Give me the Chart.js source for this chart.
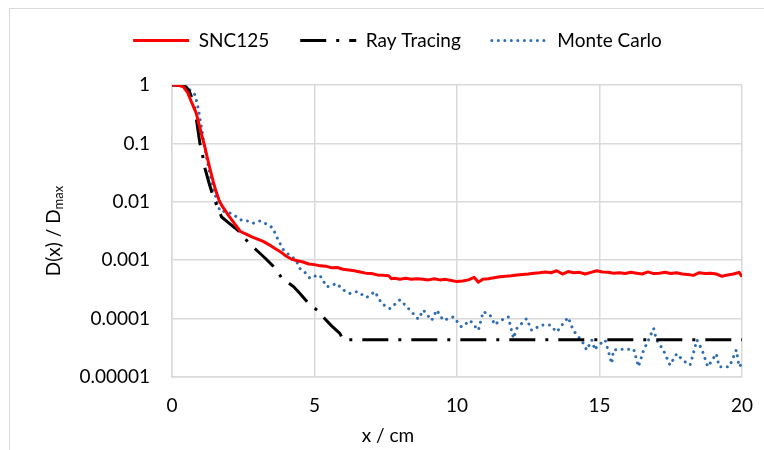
<!DOCTYPE html>
<html>
<head>
<meta charset="utf-8">
<script src="https://cdn.jsdelivr.net/npm/chart.js@4"></script>
<style>
  html, body { margin: 0; padding: 0; background: #fff; }
  #wrap { position: relative; width: 764px; height: 450px; overflow: hidden; }
  #frame { position: absolute; left: 9px; top: 8px; width: 800px; height: 500px; border: 1px solid #d9d9d9; box-sizing: border-box; }
  canvas { position: absolute; left: 0; top: 0; }
</style>
</head>
<body>
<div id="wrap">
  <div id="frame"></div>
  <canvas id="c" width="764" height="450"></canvas>
</div>
<script>
const seriesNames = ['SNC125', 'Ray Tracing', 'Monte Carlo'];

const xSNC = [0,0.2,0.4,0.55,0.65,0.75,0.85,0.95,1.05,1.15,1.25,1.35,1.45,1.55,1.65,1.75,1.9,2.0,2.2,2.4,2.6,2.8,3.0,3.2,3.4,3.6,3.8,4.0,4.2,4.4,4.6,4.8,5.0,5.2,5.4,5.6,5.8,6.0,6.2,6.4,6.6,6.8,7.0,7.2,7.4,7.6,7.7,7.8,8.0,8.2,8.4,8.6,8.8,9.0,9.2,9.4,9.6,9.8,10.0,10.2,10.4,10.6,10.75,10.9,11.1,11.3,11.5,11.7,11.9,12.1,12.3,12.5,12.7,12.9,13.1,13.3,13.5,13.7,13.9,14.1,14.3,14.5,14.7,14.9,15.1,15.3,15.5,15.7,15.9,16.1,16.3,16.5,16.7,16.9,17.1,17.3,17.5,17.7,17.9,18.1,18.3,18.5,18.7,18.9,19.1,19.3,19.5,19.7,19.9,20.0];
const ySNC = [1,0.995,0.93,0.74,0.56,0.43,0.33,0.21,0.135,0.088,0.054,0.034,0.022,0.0148,0.0107,0.0086,0.0067,0.0057,0.0042,0.0031,0.0028,0.0025,0.0023,0.0021,0.00185,0.0016,0.0014,0.00118,0.00104,0.00098,0.00093,0.00086,0.00084,0.00080,0.00079,0.00074,0.00075,0.00070,0.00068,0.00066,0.00063,0.00060,0.00059,0.00056,0.00055,0.00054,0.00048,0.00049,0.00047,0.00049,0.00047,0.00048,0.00047,0.00046,0.00048,0.00046,0.00047,0.00045,0.00043,0.00044,0.00046,0.00051,0.00042,0.00047,0.00048,0.00050,0.00052,0.00053,0.00054,0.00056,0.00057,0.00058,0.00060,0.00061,0.00063,0.00061,0.00066,0.00058,0.00064,0.00061,0.00062,0.00058,0.00062,0.00066,0.00063,0.00062,0.00060,0.00061,0.00059,0.00062,0.00060,0.00058,0.00063,0.00059,0.00060,0.00062,0.00059,0.00061,0.00058,0.00057,0.00055,0.00061,0.00059,0.00060,0.00058,0.00053,0.00056,0.00058,0.00062,0.00052];

const xRT = [0,0.3,0.5,0.6,0.7,0.8,0.87,0.98,1.08,1.16,1.3,1.39,1.5,1.6,1.74,2.0,2.2,2.39,2.68,2.97,3.3,3.56,3.85,4.27,4.49,4.79,5.13,5.37,5.6,5.89,6.0,8,10,12,14,16,18,20];
const yRT = [1,0.99,0.92,0.8,0.6,0.38,0.23,0.1,0.06,0.037,0.021,0.015,0.0105,0.008,0.0055,0.0043,0.0036,0.0030,0.0020,0.00148,0.00105,0.00078,0.0005,0.00035,0.00027,0.000182,0.000135,0.000098,0.000075,0.000056,0.0000436,0.0000436,0.0000436,0.0000436,0.0000436,0.0000436,0.0000436,0.0000436];

const xMC = [0,0.3,0.5,0.65,0.81,0.92,1.04,1.12,1.22,1.33,1.45,1.55,1.68,1.86,2.09,2.27,2.45,2.65,2.85,3.09,3.3,3.53,3.73,3.91,4.05,4.2,4.35,4.49,4.65,4.84,5.08,5.19,5.43,5.6,5.78,6.0,6.25,6.5,6.83,7.12,7.36,7.65,8.0,8.35,8.64,8.82,9.11,9.29,9.52,9.87,10.16,10.46,10.75,10.92,11.16,11.33,11.45,11.8,11.98,12.1,12.44,12.62,12.97,13.26,13.5,13.73,13.9,14.08,14.26,14.43,14.55,14.73,14.84,14.9,15.2,15.43,15.49,15.78,16.2,16.37,16.55,16.72,16.9,17.0,17.24,17.47,17.71,17.94,18.18,18.42,18.6,18.8,19.1,19.2,19.56,19.8,19.9,20.0];
const yMC = [1,1,0.95,0.8,0.68,0.4,0.18,0.1,0.055,0.03,0.017,0.0115,0.0069,0.0068,0.0063,0.0055,0.0048,0.0047,0.0043,0.0047,0.0042,0.0036,0.0022,0.0015,0.0013,0.00117,0.001,0.00072,0.00063,0.00049,0.00055,0.00055,0.00035,0.00037,0.0004,0.00031,0.00027,0.00029,0.00023,0.00029,0.00018,0.000148,0.00021,0.00014,0.000098,0.00014,0.000093,0.00014,0.000093,0.000107,0.000072,0.000093,0.000063,0.000132,0.000115,0.000078,0.000089,0.000107,0.000046,0.000068,0.0001,0.000063,0.000078,0.000078,0.000059,0.000083,0.000105,0.000063,0.000049,0.000038,0.000029,0.000043,0.000029,0.000033,0.000043,0.000017,0.000029,0.00003,0.00003,0.000015,0.000029,0.000043,0.000068,0.000043,0.000029,0.000016,0.000025,0.000019,0.000016,0.000043,0.000029,0.000015,0.000025,0.000015,0.000015,0.000029,0.000015,0.000017];

const yTicks = [0.00001, 0.0001, 0.001, 0.01, 0.1, 1];
const yTickLabels = ['0.00001', '0.0001', '0.001', '0.01', '0.1', '1'];
const xTicks = [0, 5, 10, 15, 20];
const xTitle = 'x / cm';
const yTitleMain = 'D(x) / D';
const yTitleSub = 'max';

const pts = (xs, ys) => xs.map((x, i) => ({x: x, y: ys[i]}));
const FONT = 'Lato, "Open Sans", "Liberation Sans", sans-serif';

const titlePlugin = {
  id: 'titles',
  beforeInit(chart) {
    const lg = chart.legend;
    if (lg) {
      const fit = lg.fit;
      lg.fit = function () { fit.call(this); this.height = 85; };
    }
  },
  afterDraw(chart) {
    const ctx = chart.ctx;
    const a = chart.chartArea;
    ctx.save();
    ctx.fillStyle = '#000';
    ctx.textBaseline = 'middle';
    ctx.font = '19px ' + FONT;
    ctx.textAlign = 'center';
    ctx.fillText(xTitle, 388, 436);
    ctx.translate(54, (a.top + a.bottom) / 2);
    ctx.rotate(-Math.PI / 2);
    ctx.textAlign = 'left';
    ctx.font = '19px ' + FONT;
    const w1 = ctx.measureText(yTitleMain).width;
    ctx.font = '13px ' + FONT;
    const w2 = ctx.measureText(yTitleSub).width;
    const x0 = -(w1 + w2) / 2;
    ctx.font = '19px ' + FONT;
    ctx.fillText(yTitleMain, x0, 0);
    ctx.font = '13px ' + FONT;
    ctx.fillText(yTitleSub, x0 + w1, 5);
    ctx.restore();
  }
};

new Chart(document.getElementById('c'), {
  type: 'line',
  data: {
    datasets: [
      {
        label: seriesNames[0], data: pts(xSNC, ySNC),
        borderColor: '#ff0000', backgroundColor: '#ff0000', borderWidth: 3,
        pointRadius: 0, pointStyle: 'line', tension: 0, borderJoinStyle: 'round'
      },
      {
        label: seriesNames[1], data: pts(xRT, yRT),
        borderColor: '#000000', backgroundColor: '#000000', borderWidth: 3,
        borderDash: [26, 10, 3, 10], pointRadius: 0, pointStyle: 'line', tension: 0
      },
      {
        label: seriesNames[2], data: pts(xMC, yMC),
        borderColor: '#2e6db0', backgroundColor: '#2e6db0', borderWidth: 3,
        borderDash: [0.01, 6.5], borderCapStyle: 'round',
        pointRadius: 0, pointStyle: 'line', tension: 0
      }
    ]
  },
  options: {
    responsive: false,
    animation: false,
    devicePixelRatio: 1,
    layout: { padding: { left: 53, right: 22, top: 0, bottom: 0 } },
    plugins: {
      legend: {
        display: true, position: 'top',
        labels: {
          usePointStyle: true, boxWidth: 50, pointStyleWidth: 56,
          padding: 31, color: '#000',
          font: { family: FONT, size: 19 },
          generateLabels(chart) {
            const items = Chart.defaults.plugins.legend.labels.generateLabels(chart);
            items.forEach((it, i) => {
              const ds = chart.data.datasets[i];
              it.lineDash = ds.borderDash || [];
              it.lineCap = ds.borderCapStyle || 'butt';
              it.lineWidth = 3;
              it.strokeStyle = ds.borderColor;
              it.pointStyle = 'line';
            });
            return items;
          }
        }
      },
      tooltip: { enabled: false }
    },
    scales: {
      x: {
        type: 'linear', min: 0, max: 20,
        afterBuildTicks(s) { s.ticks = xTicks.map(v => ({value: v})); },
        afterFit(s) { s.height = 73; s.paddingLeft = 0; s.paddingRight = 0; },
        grid: { color: '#d9d9d9', lineWidth: 1.5, drawTicks: false },
        border: { color: '#d9d9d9', width: 1.5 },
        ticks: { padding: 17, color: '#000', font: { family: FONT, size: 19 }, maxRotation: 0 }
      },
      y: {
        type: 'logarithmic', min: 0.00001, max: 1,
        afterBuildTicks(s) { s.ticks = yTicks.map(v => ({value: v})); },
        afterFit(s) { s.width = 172 - 53; s.paddingTop = 0; s.paddingBottom = 0; },
        grid: { color: '#d9d9d9', lineWidth: 1.5, drawTicks: false },
        border: { color: '#d9d9d9', width: 1.5 },
        ticks: {
          padding: 22, color: '#000', font: { family: FONT, size: 19 },
          callback(v) { const i = yTicks.indexOf(v); return i >= 0 ? yTickLabels[i] : ''; }
        }
      }
    }
  },
  plugins: [titlePlugin]
});
</script>
</body>
</html>
